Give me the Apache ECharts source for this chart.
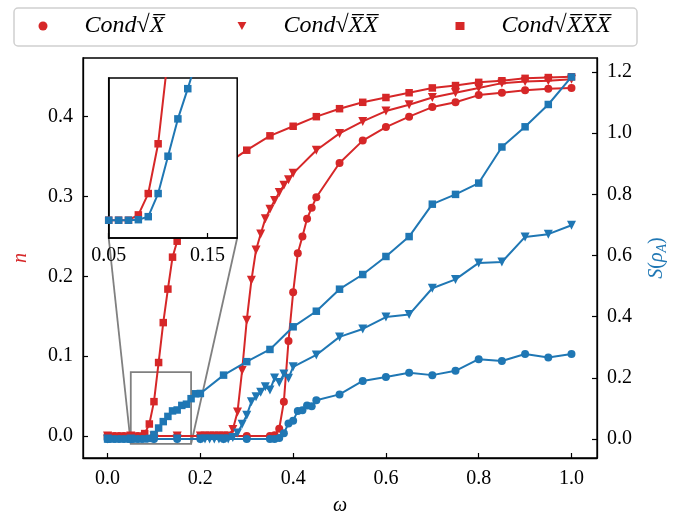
<!DOCTYPE html>
<html>
<head>
<meta charset="utf-8">
<script src="https://cdn.jsdelivr.net/npm/echarts@6/dist/echarts.min.js"></script>
<style>
  html, body { margin: 0; padding: 0; background: #fff; }
  #chart { width: 690px; height: 515px; }
</style>
</head>
<body>
<div id="chart"></div>
<script>
// ---- data -------------------------------------------------------------
// frequency grids (each condition is sampled densely around its transition)
const omegaCirc = [0, 0.05, 0.10, 0.15, 0.20, 0.25, 0.30,
  0.35, 0.36, 0.37, 0.38, 0.39, 0.40, 0.41, 0.42, 0.43, 0.44, 0.45,
  0.50, 0.55, 0.60, 0.65, 0.70, 0.75, 0.80, 0.85, 0.90, 0.95, 1.00];
const omegaTri = [0, 0.05, 0.10, 0.15,
  0.20, 0.21, 0.22, 0.23, 0.24, 0.25, 0.26, 0.27, 0.28, 0.29, 0.30,
  0.31, 0.32, 0.33, 0.34, 0.35, 0.36, 0.37, 0.38, 0.39, 0.40,
  0.45, 0.50, 0.55, 0.60, 0.65, 0.70, 0.75, 0.80, 0.85, 0.90, 0.95, 1.00];
const omegaSq = [0, 0.01, 0.02, 0.03, 0.04, 0.05, 0.06, 0.07, 0.08, 0.09, 0.10,
  0.11, 0.12, 0.13, 0.14, 0.15, 0.16, 0.17, 0.18, 0.19, 0.20,
  0.25, 0.30, 0.35, 0.40, 0.45, 0.50, 0.55, 0.60, 0.65, 0.70, 0.75, 0.80, 0.85, 0.90, 0.95, 1.00];

// occupation n (left axis)
const nCirc = [0, 0, 0, 0, 0, 0, 0,
  0, 0.001, 0.009, 0.043, 0.119, 0.180, 0.229, 0.250, 0.272, 0.286, 0.299,
  0.342, 0.370, 0.387, 0.400, 0.412, 0.418, 0.427, 0.430, 0.433, 0.435, 0.436];
const nTri = [0, 0, 0, 0,
  0, 0, 0, 0, 0, 0, 0, 0.008, 0.030, 0.082, 0.145,
  0.195, 0.233, 0.253, 0.272, 0.284, 0.295, 0.305, 0.314, 0.321, 0.329,
  0.358, 0.379, 0.394, 0.407, 0.415, 0.424, 0.430, 0.436, 0.442, 0.444, 0.445, 0.447];
const nSq = [0, 0, 0, 0, 0, 0, 0, 0, 0.003, 0.015, 0.043,
  0.092, 0.142, 0.184, 0.224, 0.244, 0.262, 0.278, 0.291, 0.302, 0.312,
  0.338, 0.358, 0.376, 0.388, 0.400, 0.410, 0.418, 0.424, 0.430, 0.436, 0.439, 0.443, 0.445, 0.448, 0.449, 0.450];

// entropy S(rho_A) (right axis)
const sCirc = [0, 0, 0, 0, 0, 0, 0,
  0, 0, 0.003, 0.019, 0.051, 0.060, 0.092, 0.094, 0.110, 0.107, 0.127,
  0.146, 0.190, 0.203, 0.217, 0.209, 0.223, 0.261, 0.255, 0.278, 0.267, 0.278];
const sTri = [0, 0, 0, 0,
  0, 0, 0, 0, 0, 0, 0, 0.005, 0.020, 0.048, 0.078,
  0.122, 0.138, 0.153, 0.171, 0.160, 0.200, 0.185, 0.213, 0.199, 0.236,
  0.275, 0.334, 0.360, 0.399, 0.407, 0.493, 0.522, 0.576, 0.579, 0.661, 0.670, 0.699];
const sSq = [0, 0, 0, 0, 0, 0, 0, 0, 0.0003, 0.002, 0.015,
  0.036, 0.057, 0.074, 0.092, 0.095, 0.110, 0.114, 0.132, 0.148, 0.149,
  0.209, 0.253, 0.293, 0.367, 0.418, 0.490, 0.538, 0.597, 0.662, 0.768, 0.800, 0.837, 0.955, 1.021, 1.094, 1.184];

// tick positions
const xTicks = [0, 0.2, 0.4, 0.6, 0.8, 1.0];
const nTicks = [0, 0.1, 0.2, 0.3, 0.4];
const sTicks = [0, 0.2, 0.4, 0.6, 0.8, 1.0, 1.2];
const insetXTicks = [0.05, 0.15];

// zoomed window shown in the inset
const zoomX = [0.05, 0.18];
const zoomY = [-0.01, 0.08];

const names = ['Cond√X', 'Cond√XX', 'Cond√XXX'];

// ---- styling ----------------------------------------------------------
const RED = '#d62728';
const BLUE = '#1f77b4';
const FONT = 'Liberation Serif';
const FS = 20;
const MAIN = { left: 83, top: 58, width: 514, height: 400 };
// inset placed in axes-fraction units of the main plot
const INSET = {
  left: MAIN.left + 0.05 * MAIN.width,
  top: MAIN.top + (1 - 0.95) * MAIN.height,
  width: 0.25 * MAIN.width,
  height: 0.40 * MAIN.height
};
const TRI_DOWN = 'path://M0,0L10,0L5,9Z';

function pairs(xs, ys) { return xs.map((x, i) => [x, ys[i]]); }

function curve(name, xs, ys, opt) {
  return {
    type: 'line', name,
    xAxisIndex: opt.xi || 0, yAxisIndex: opt.yi,
    data: pairs(xs, ys),
    symbol: opt.symbol, symbolSize: opt.size, symbolRotate: opt.rotate || 0,
    showAllSymbol: true,
    lineStyle: { color: opt.color, width: 2 },
    itemStyle: { color: opt.color },
    emphasis: { disabled: true },
    clip: true, z: opt.z, animation: false
  };
}

function valueAxis(extra) {
  return Object.assign({
    type: 'value',
    splitLine: { show: false },
    axisLine: { show: true, onZero: false, lineStyle: { color: '#000', width: 1.3 } },
    axisTick: { show: true, inside: true, length: 5, lineStyle: { color: '#000', width: 1.2 } },
    axisLabel: { color: '#000', fontFamily: FONT, fontSize: FS, margin: 10 }
  }, extra);
}

const legendRich = {
  it: { fontFamily: FONT, fontStyle: 'italic', fontSize: 24, color: '#000' },
  rt: { fontFamily: FONT, fontSize: 24, color: '#000' }
};
const legendLabel = {
  'Cond√X': '{it|Cond}{rt|√}{it|X\u0305}',
  'Cond√XX': '{it|Cond}{rt|√}{it|X\u0305X\u0305}',
  'Cond√XXX': '{it|Cond}{rt|√}{it|X\u0305X\u0305X\u0305}'
};
function legendAt(left, name, icon, h) {
  return {
    left, top: 14, padding: 0, itemWidth: 9, itemHeight: h,
    selectedMode: false,
    data: [{ name, icon }],
    formatter: n => legendLabel[n],
    textStyle: { padding: [0, 0, 0, 32], rich: legendRich }
  };
}

const chart = echarts.init(document.getElementById('chart'), null, { renderer: 'canvas' });

const option = {
  animation: false,
  backgroundColor: '#fff',
  graphic: [{
    type: 'rect', z: 0,
    shape: { x: 14, y: 8, width: 623, height: 38, r: 4 },
    style: { fill: '#fff', stroke: '#d0d0d0', lineWidth: 1.5 }
  }],
  legend: [
    legendAt(38.5, names[0], 'circle', 9),
    legendAt(237.5, names[1], TRI_DOWN, 8),
    legendAt(455.5, names[2], 'rect', 8)
  ],
  grid: [
    Object.assign({ show: true, borderColor: '#000', borderWidth: 1.3, backgroundColor: 'transparent',
      z: 0, containLabel: false, outerBoundsMode: 'none' }, MAIN),
    Object.assign({ show: true, borderColor: '#000', borderWidth: 1.5, backgroundColor: '#fff',
      z: 20, containLabel: false, outerBoundsMode: 'none' }, INSET)
  ],
  xAxis: [
    valueAxis({
      gridIndex: 0, min: -0.053, max: 1.055,
      axisTick: { show: true, inside: true, length: 5, customValues: xTicks, lineStyle: { color: '#000', width: 1.2 } },
      axisLabel: { color: '#000', fontFamily: FONT, fontSize: FS, margin: 11, customValues: xTicks, formatter: v => v.toFixed(1) },
      name: 'ω', nameLocation: 'middle', nameGap: 38,
      nameTextStyle: { fontFamily: FONT, fontStyle: 'italic', fontSize: FS, color: '#000' }
    }),
    valueAxis({
      gridIndex: 1, min: zoomX[0], max: zoomX[1], z: 21,
      axisLine: { show: true, onZero: false, lineStyle: { color: '#000', width: 1.5 } },
      axisTick: { show: true, inside: true, length: 5, customValues: insetXTicks, lineStyle: { color: '#000', width: 1.2 } },
      axisLabel: { color: '#000', fontFamily: FONT, fontSize: FS, margin: 8, customValues: insetXTicks, formatter: v => v.toFixed(2) }
    })
  ],
  yAxis: [
    valueAxis({
      gridIndex: 0, position: 'left', min: -0.0276, max: 0.4735,
      axisTick: { show: true, inside: true, length: 5, customValues: nTicks, lineStyle: { color: '#000', width: 1.2 } },
      axisLabel: { color: '#000', fontFamily: FONT, fontSize: FS, margin: 10, customValues: nTicks, formatter: v => v.toFixed(1) },
      name: 'n', nameLocation: 'middle', nameGap: 52, nameRotate: 90,
      nameTextStyle: { fontFamily: FONT, fontStyle: 'italic', fontSize: FS, color: RED }
    }),
    valueAxis({
      gridIndex: 0, position: 'right', min: -0.062, max: 1.246,
      axisTick: { show: true, inside: true, length: 5, customValues: sTicks, lineStyle: { color: '#000', width: 1.2 } },
      axisLabel: { color: '#000', fontFamily: FONT, fontSize: FS, margin: 10, customValues: sTicks, formatter: v => v.toFixed(1) },
      name: '{i|S}{r|(}{i|ρ}{s|A}{r|)}', nameLocation: 'middle', nameGap: 48, nameRotate: 90,
      nameTextStyle: {
        color: BLUE, fontFamily: FONT, fontSize: FS,
        rich: {
          i: { fontFamily: FONT, fontStyle: 'italic', fontSize: FS, color: BLUE, lineHeight: 24 },
          r: { fontFamily: FONT, fontSize: FS, color: BLUE, lineHeight: 24 },
          s: { fontFamily: FONT, fontStyle: 'italic', fontSize: 14, color: BLUE, padding: [10, 0, 0, 0], lineHeight: 24 }
        }
      }
    }),
    valueAxis({
      gridIndex: 1, min: zoomY[0], max: zoomY[1], z: 21,
      axisLine: { show: true, onZero: false, lineStyle: { color: '#000', width: 1.5 } },
      axisTick: { show: false },
      axisLabel: { show: false }
    })
  ],
  series: [
    curve(names[0], omegaCirc, nCirc, { yi: 0, color: RED, symbol: 'circle', size: 8, z: 2 }),
    curve(names[1], omegaTri, nTri, { yi: 0, color: RED, symbol: 'triangle', size: 9, rotate: 180, z: 2 }),
    curve(names[2], omegaSq, nSq, { yi: 0, color: RED, symbol: 'rect', size: 7.5, z: 2 }),
    curve('S ' + names[0], omegaCirc, sCirc, { yi: 1, color: BLUE, symbol: 'circle', size: 8, z: 3 }),
    curve('S ' + names[1], omegaTri, sTri, { yi: 1, color: BLUE, symbol: 'triangle', size: 9, rotate: 180, z: 3 }),
    curve('S ' + names[2], omegaSq, sSq, { yi: 1, color: BLUE, symbol: 'rect', size: 7.5, z: 3 }),
    // zoomed view
    curve('inset ' + names[2], omegaSq, nSq, { xi: 1, yi: 2, color: RED, symbol: 'rect', size: 7.5, z: 22 }),
    curve('inset S ' + names[2], omegaSq, sSq, { xi: 1, yi: 2, color: BLUE, symbol: 'rect', size: 7.5, z: 23 })
  ]
};

chart.setOption(option);

// zoom indicator: rectangle around the zoomed window plus connectors to the inset
const mainFinder = { xAxisIndex: 0, yAxisIndex: 0 };
const insetFinder = { xAxisIndex: 1, yAxisIndex: 2 };
const rTL = chart.convertToPixel(mainFinder, [zoomX[0], zoomY[1]]);
const rBR = chart.convertToPixel(mainFinder, [zoomX[1], zoomY[0]]);
const iBL = chart.convertToPixel(insetFinder, [zoomX[0], zoomY[0]]);
const iBR = chart.convertToPixel(insetFinder, [zoomX[1], zoomY[0]]);
const grey = { stroke: '#808080', lineWidth: 1.8, fill: null };

chart.setOption({
  graphic: [
    option.graphic[0],
    { type: 'rect', z: 1, silent: true,
      shape: { x: rTL[0], y: rTL[1], width: rBR[0] - rTL[0], height: rBR[1] - rTL[1] },
      style: grey },
    { type: 'line', z: 1, silent: true,
      shape: { x1: rTL[0], y1: rBR[1], x2: iBL[0], y2: iBL[1] }, style: grey },
    { type: 'line', z: 1, silent: true,
      shape: { x1: rBR[0], y1: rBR[1], x2: iBR[0], y2: iBR[1] }, style: grey }
  ]
});
</script>
</body>
</html>
